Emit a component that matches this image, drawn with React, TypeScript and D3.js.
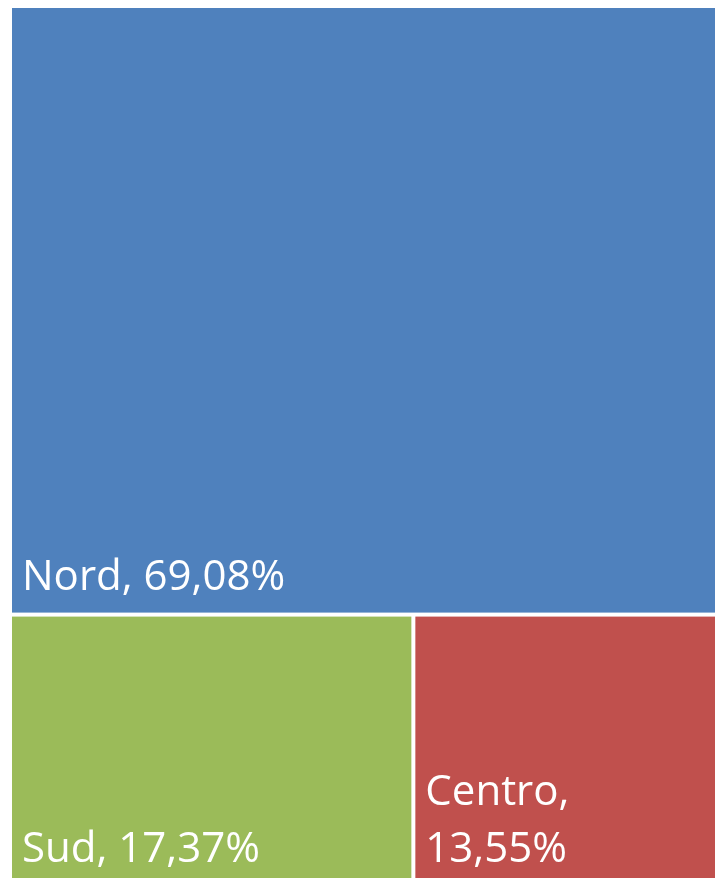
import React from "react";
import * as d3 from "d3";

const regions = ["Nord", "Sud", "Centro"];
const shares = [69.08, 17.37, 13.55];
const colors = ["#4F81BD", "#9BBB59", "#C0504D"];

const fmt = (v: number) => v.toFixed(2).replace(".", ",") + "%";

export default function App() {
  const W = 715;
  const H = 878;
  const data = {
    name: "root",
    children: regions.map((r, i) => ({ name: r, value: shares[i], color: colors[i] })),
  };
  const root = d3
    .hierarchy<any>(data)
    .sum((d: any) => d.value || 0);
  d3.treemap<any>().tile(d3.treemapBinary).size([714, 877]).paddingInner(4)(root);
  const leaves = root.leaves() as any[];
  const fontSize = 42;
  const lineH = 57;
  return (
    <svg
      width={W}
      height={H}
      style={{ display: "block", position: "fixed", left: 0, top: 0 }}
    >
      <g transform="translate(12,8)">
        {leaves.map((n) => {
          const w = n.x1 - n.x0;
          const label = `${n.data.name}, ${fmt(n.data.value)}`;
          const twoLines = w < 340;
          const lines = twoLines ? [`${n.data.name},`, fmt(n.data.value)] : [label];
          return (
            <g key={n.data.name}>
              <rect x={n.x0} y={n.y0} width={w} height={n.y1 - n.y0} fill={n.data.color} />
              {lines.map((t, k) => (
                <text
                  key={k}
                  x={n.x0 + 10}
                  y={n.y1 - 23 - (lines.length - 1 - k) * lineH}
                  fill="#ffffff"
                  fontFamily="'Open Sans', sans-serif"
                  fontSize={fontSize}
                >
                  {t}
                </text>
              ))}
            </g>
          );
        })}
      </g>
    </svg>
  );
}
